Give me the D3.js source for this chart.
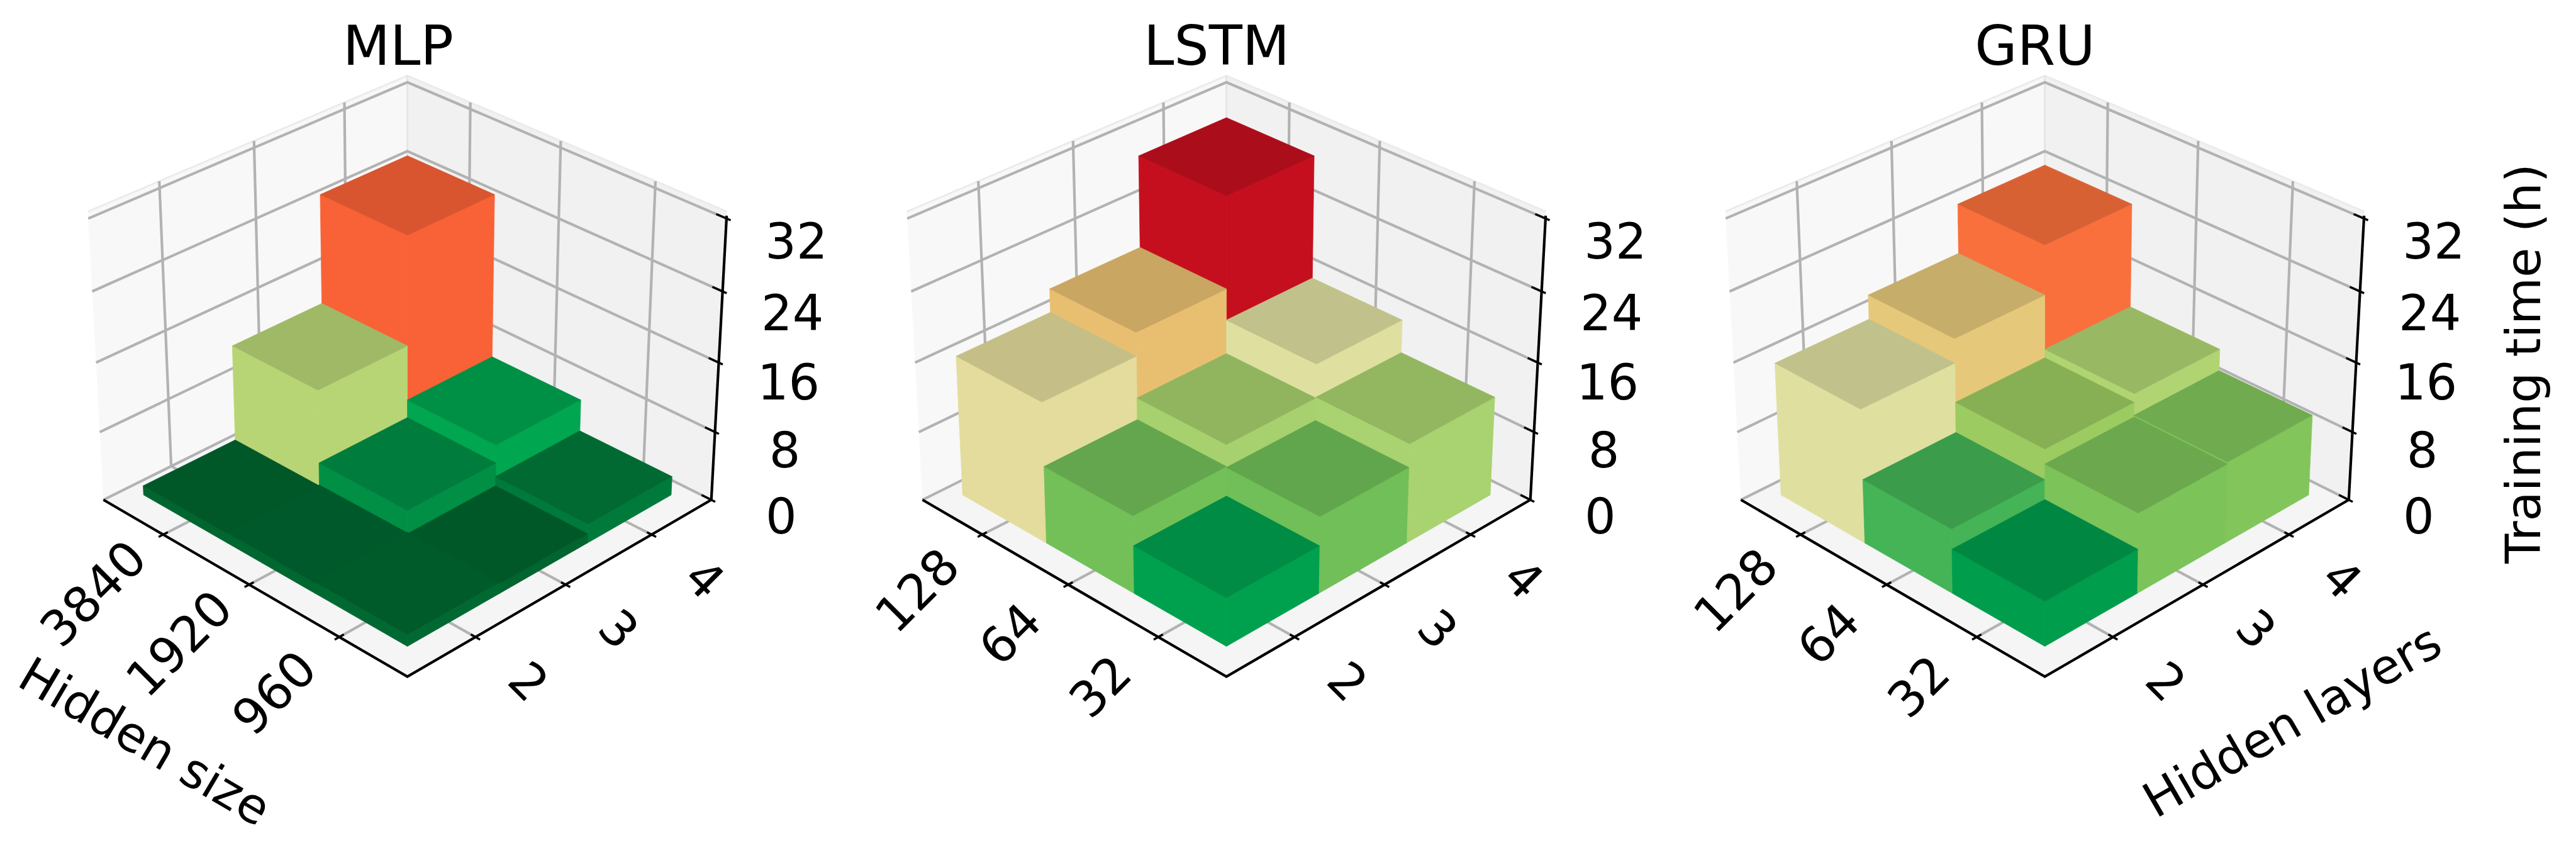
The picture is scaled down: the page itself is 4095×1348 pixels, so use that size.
<!DOCTYPE html>
<html><head><meta charset="utf-8">
<script src="https://cdn.jsdelivr.net/npm/d3@7"></script>
<style>html,body{margin:0;padding:0;background:#fff}svg{display:block}text{font-family:"DejaVu Sans";fill:#000}</style>
</head><body><svg id="c" width="4095" height="1348"></svg>
<script>
// Training time (h): rows = hidden size (back-left to front), columns = hidden layers (2,3,4)
const titles = ["MLP", "LSTM", "GRU"];
const layerLabels = ["2", "3", "4"];
const mlpSizes = ["3840", "1920", "960"];
const rnnSizes = ["128", "64", "32"];
const zTicks = [0, 8, 16, 24, 32];
const mlpTimes = [[1.1, 12.3, 25.0], [1.2, 3.8, 5.9], [1.3, 1.1, 2.2]];
const lstmTimes = [[16.2, 18.9, 29.4], [8.9, 11.4, 15.3], [5.5, 8.8, 11.5]];
const gruTimes = [[15.4, 18.2, 23.9], [7.4, 10.9, 11.9], [5.1, 9.2, 9.4]];
const rampValues = [1.1, 2.2, 3.8, 5.2, 5.9, 7.4, 8.8, 9.4, 10.9, 11.5, 12.3, 15.3, 16.2, 18.5, 23.9, 25, 29.4];
const rampColors = ["#00652f", "#007a3a", "#008f45", "#009e4d", "#00a650", "#44b457", "#70bf58", "#82c55b", "#9ccb62", "#a9d270", "#b8d576", "#dfe0a0", "#e3dc9c", "#e7c575", "#f9703c", "#f96236", "#c60f1e"];

const panels = [
  {title: titles[0], cx: 647.6, titleX: 633, sizes: mlpSizes, times: mlpTimes},
  {title: titles[1], cx: 1949.6, titleX: 1934, sizes: rnnSizes, times: lstmTimes},
  {title: titles[2], cx: 3250.6, titleX: 3235, sizes: rnnSizes, times: gruTimes}
];

const svg = d3.select("#c");
const color = d3.scaleLinear().domain(rampValues).range(rampColors);
const tickScale = d3.scaleLinear().domain([0, 3]).range([0.065, 0.935]);
const barU = d3.scaleLinear().domain([0, 3]).range([0.05, 0.92]);
const barV = d3.scaleLinear().domain([0, 3]).range([0.08, 0.95]);
const heightScale = d3.scaleLinear().domain([0, 32]).range([-0.0488, 0.0488]);
const labelDrop = d3.scaleLinear().domain([0, 32]).range([25, 36]);
const line = d3.line().curve(d3.curveLinearClosed);
const seg = d3.line();

const R = 0.0936, F = 5288, elev = 30 * Math.PI / 180, cE = Math.cos(elev), sE = Math.sin(elev), cy = 576.4;
const zTop = 32.75;

function projector(cx) {
  return (u, v, z) => {
    const x = R * (u + v - 1), y = R * (v - u), zp = heightScale(z);
    const pn = -y * cE + zp * sE, pu = y * sE + zp * cE, w = 1 - pn;
    return [cx + x * F / w, cy - pu * F / w];
  };
}

panels.forEach(p => {
  const g = svg.append("g");
  const P = projector(p.cx);
  const poly = (pts, fill, stroke, sw) => g.append("path")
    .attr("d", line(pts.map(a => P(...a)))).attr("fill", fill)
    .attr("stroke", stroke || "none").attr("stroke-width", sw || 0).attr("stroke-linejoin", "round");
  const path = (pts, stroke, sw) => g.append("path")
    .attr("d", seg(pts.map(a => P(...a)))).attr("fill", "none").attr("stroke", stroke).attr("stroke-width", sw);

  // panes
  poly([[0,0,0],[1,0,0],[1,1,0],[0,1,0]], "#f5f5f5");
  poly([[0,0,0],[0,1,0],[0,1,zTop],[0,0,zTop]], "#f8f8f8");
  poly([[0,1,0],[1,1,0],[1,1,zTop],[0,1,zTop]], "#f1f1f1");
  path([[0,0,zTop],[0,1,zTop],[1,1,zTop]], "#ebebeb", 3);
  path([[0,1,0],[0,1,zTop]], "#e6e6e6", 3);

  // grid
  const gridColor = "#b2b2b2", gw = 4.2;
  d3.range(3).forEach(i => {
    const t = tickScale(i + 0.5);
    path([[t,0,0],[t,1,0],[t,1,zTop]], gridColor, gw);
    path([[0,t,zTop],[0,t,0],[1,t,0]], gridColor, gw);
  });
  zTicks.forEach(z => path([[0,0,z],[0,1,z],[1,1,z]], gridColor, gw));

  // axes
  path([[0,0,0],[1,0,0],[1,1,0]], "#000", 4.2);
  path([[1,1,0],[1,1,32.3]], "#000", 4.2);
  d3.range(3).forEach(i => {
    const t = tickScale(i + 0.5);
    path([[t,-0.014,0],[t,0.014,0]], "#000", 3.4);
    path([[1-0.014,t,0],[1+0.014,t,0]], "#000", 3.4);
  });
  zTicks.forEach(z => path([[1-0.03,1,z],[1+0.012,1,z]], "#000", 3.4));

  // bars, back to front
  const b = [];
  p.times.forEach((row, i) => row.forEach((v, j) => b.push({i, j, v})));
  b.sort((a, c) => (c.j - c.i) - (a.j - a.i) || a.i - c.i);
  b.forEach(({i, j, v}) => {
    const u0 = barU(i), u1 = barU(i + 1), v0 = barV(j), v1 = barV(j + 1);
    const side = color(v), top = d3.rgb(side).darker(0.4).formatHex();
    poly([[u0,v0,0],[u1,v0,0],[u1,v0,v],[u0,v0,v]], side, side, 0.7);
    poly([[u1,v0,0],[u1,v1,0],[u1,v1,v],[u1,v0,v]], side, side, 0.7);
    poly([[u0,v0,v],[u1,v0,v],[u1,v1,v],[u0,v1,v]], top, top, 0.7);
  });

  // title
  g.append("text").attr("x", p.titleX).attr("y", 72).attr("dy", "0.36em")
    .attr("text-anchor", "middle").attr("font-size", 87).text(p.title);

  // tick labels
  const tick = (x, y, rot, s) => g.append("text")
    .attr("transform", `translate(${x},${y}) rotate(${rot})`).attr("dy", "0.36em")
    .attr("text-anchor", "middle").attr("font-size", 78).text(s);
  p.sizes.forEach((s, i) => {
    const [x, y] = P(tickScale(i + 0.5), 0, 0);
    const off = {2: [-93, 78], 3: [-104, 88], 4: [-112, 93]}[s.length];
    tick(x + off[0], y + off[1], -45, s);
  });
  layerLabels.forEach((s, j) => {
    const [x, y] = P(1, tickScale(j + 0.5), 0);
    tick(x + 85, y + 70, 45, s);
  });
  zTicks.forEach(z => {
    const [x, y] = P(1, 1, z);
    tick(x + 111, y + labelDrop(z), 0, String(z));
  });
});

// axis titles
const lab = (x, y, rot, s) => svg.append("text")
  .attr("transform", `translate(${x},${y}) rotate(${rot})`).attr("dy", "0.36em")
  .attr("text-anchor", "middle").attr("font-size", 77).text(s);
lab(231, 1178, 30.5, "Hidden size");
lab(3643, 1145, -30, "Hidden layers");
lab(4010, 578, -90, "Training time (h)");
</script></body></html>
